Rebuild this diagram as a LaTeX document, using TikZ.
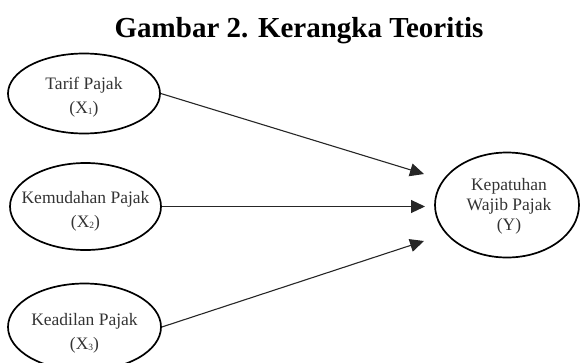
\documentclass[tikz,border=0pt]{standalone}
\usepackage{fontspec}
\setmainfont{Liberation Serif}
\usetikzlibrary{shapes.geometric,arrows.meta}
\newcommand{\subdig}[1]{\raisebox{-1pt}{\fontsize{9.5}{9.5}\selectfont #1}}
\tikzset{
  var/.style={ellipse, draw=black, line width=1.7pt, inner sep=0pt},
  vartext/.style={align=center, inner sep=0pt, text=black!80, font=\fontsize{17.5}{24}\selectfont},
  conn/.style={draw=black!85, line width=1.1pt, -{Triangle[length=14pt,width=13pt]}},
  titlestyle/.style={font=\fontsize{29}{30}\selectfont\bfseries, inner sep=0pt, anchor=base}
}
\begin{document}
\begin{tikzpicture}[x=1pt,y=-1pt]
\useasboundingbox (0,0) rectangle (580,362);
\node[titlestyle] (title) at (299,37) {Gambar 2. Kerangka Teoritis};
\node[var, minimum width=152pt, minimum height=80pt] (x1) at (84,93.5) {};
\node[var, minimum width=151pt, minimum height=87pt] (x2) at (85.5,206.5) {};
\node[var, minimum width=153pt, minimum height=87pt] (x3) at (84.5,327) {};
\node[var, minimum width=144pt, minimum height=105pt] (y) at (507,205) {};
\node[vartext] (x1t) at (84,97) {Tarif Pajak\\(X\subdig{1})};
\node[vartext] (x2t) at (85.5,211) {Kemudahan Pajak\\(X\subdig{2})};
\node[vartext] (x3t) at (84.5,333) {Keadilan Pajak\\(X\subdig{3})};
\node[vartext, font=\fontsize{17.5}{20}\selectfont] (yt) at (509,206) {Kepatuhan\\Wajib Pajak\\(Y)};
\coordinate (t1) at (424,174);
\coordinate (t2) at (425,206.5);
\coordinate (t3) at (424,241);
\draw[conn] (x1.east) -- (t1);
\draw[conn] (x2.east) -- (t2);
\draw[conn] (x3.east) -- (t3);
\end{tikzpicture}
\end{document}
